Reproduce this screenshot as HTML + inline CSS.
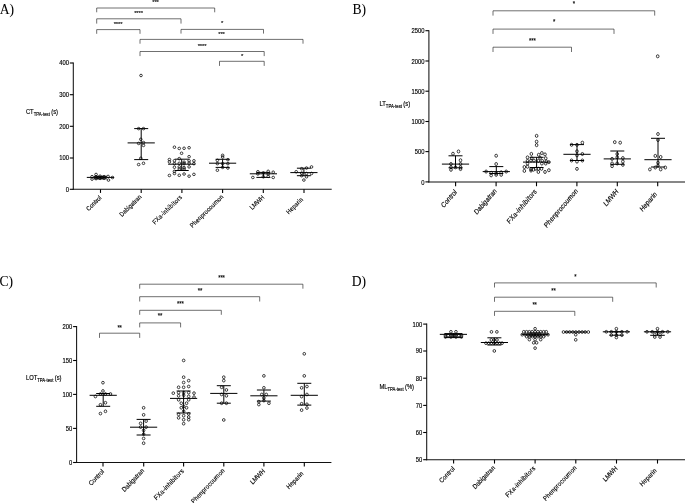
<!DOCTYPE html>
<html><head><meta charset="utf-8"><title>Figure</title>
<style>html,body{margin:0;padding:0;background:#fff;}svg{display:block}</style>
</head><body>
<svg width="685" height="503" viewBox="0 0 685 503">
<rect width="685" height="503" fill="#fff"/>
<text transform="translate(-0.30,13.65) scale(1,1.000)" font-size="13.6" text-anchor="start" font-family='"Liberation Serif", "Times New Roman", serif' fill="#000" stroke="#000" stroke-width="0.05" >A)</text>
<text transform="translate(352.40,13.50) scale(1,1.000)" font-size="13.6" text-anchor="start" font-family='"Liberation Serif", "Times New Roman", serif' fill="#000" stroke="#000" stroke-width="0.05" >B)</text>
<text transform="translate(-0.50,286.10) scale(1,1.000)" font-size="13.6" text-anchor="start" font-family='"Liberation Serif", "Times New Roman", serif' fill="#000" stroke="#000" stroke-width="0.05" >C)</text>
<text transform="translate(351.80,286.10) scale(1,1.000)" font-size="13.6" text-anchor="start" font-family='"Liberation Serif", "Times New Roman", serif' fill="#000" stroke="#000" stroke-width="0.05" >D)</text>
<line x1="73.30" y1="62.50" x2="73.30" y2="189.80" stroke="#111" stroke-width="1.05" />
<line x1="72.80" y1="189.30" x2="331.70" y2="189.30" stroke="#111" stroke-width="1.05" />
<line x1="69.80" y1="63.00" x2="73.30" y2="63.00" stroke="#000" stroke-width="1.1" />
<text transform="translate(68.90,65.30) scale(0.893,0.975)" font-size="6.55" text-anchor="end" font-family='"Liberation Sans", Arial, sans-serif' fill="#000" stroke="#000" stroke-width="0.15" >400</text>
<line x1="69.80" y1="94.70" x2="73.30" y2="94.70" stroke="#000" stroke-width="1.1" />
<text transform="translate(68.90,97.00) scale(0.893,0.975)" font-size="6.55" text-anchor="end" font-family='"Liberation Sans", Arial, sans-serif' fill="#000" stroke="#000" stroke-width="0.15" >300</text>
<line x1="69.80" y1="126.30" x2="73.30" y2="126.30" stroke="#000" stroke-width="1.1" />
<text transform="translate(68.90,128.60) scale(0.893,0.975)" font-size="6.55" text-anchor="end" font-family='"Liberation Sans", Arial, sans-serif' fill="#000" stroke="#000" stroke-width="0.15" >200</text>
<line x1="69.80" y1="158.00" x2="73.30" y2="158.00" stroke="#000" stroke-width="1.1" />
<text transform="translate(68.90,160.30) scale(0.893,0.975)" font-size="6.55" text-anchor="end" font-family='"Liberation Sans", Arial, sans-serif' fill="#000" stroke="#000" stroke-width="0.15" >100</text>
<line x1="69.80" y1="189.30" x2="73.30" y2="189.30" stroke="#000" stroke-width="1.1" />
<text transform="translate(68.90,191.60) scale(0.893,0.975)" font-size="6.55" text-anchor="end" font-family='"Liberation Sans", Arial, sans-serif' fill="#000" stroke="#000" stroke-width="0.15" >0</text>
<line x1="100.50" y1="189.30" x2="100.50" y2="192.91" stroke="#000" stroke-width="1.1" />
<line x1="141.20" y1="189.30" x2="141.20" y2="192.91" stroke="#000" stroke-width="1.1" />
<line x1="181.90" y1="189.30" x2="181.90" y2="192.91" stroke="#000" stroke-width="1.1" />
<line x1="222.60" y1="189.30" x2="222.60" y2="192.91" stroke="#000" stroke-width="1.1" />
<line x1="263.30" y1="189.30" x2="263.30" y2="192.91" stroke="#000" stroke-width="1.1" />
<line x1="304.00" y1="189.30" x2="304.00" y2="192.91" stroke="#000" stroke-width="1.1" />
<text transform="translate(100.39,196.69) scale(1,0.975) rotate(-45) scale(0.893,1)" x="0" y="2.3" font-size="6.55" text-anchor="end" textLength="21.05" lengthAdjust="spacing" font-family='"Liberation Sans", Arial, sans-serif' fill="#000" stroke="#000" stroke-width="0.15">Control</text>
<text transform="translate(140.51,195.75) scale(1,0.975) rotate(-45) scale(0.893,1)" x="0" y="2.3" font-size="6.55" text-anchor="end" textLength="31.95" lengthAdjust="spacing" font-family='"Liberation Sans", Arial, sans-serif' fill="#000" stroke="#000" stroke-width="0.15">Dabigatran</text>
<text transform="translate(180.89,196.16) scale(1,0.975) rotate(-45) scale(0.893,1)" x="0" y="2.3" font-size="6.55" text-anchor="end" textLength="43.72" lengthAdjust="spacing" font-family='"Liberation Sans", Arial, sans-serif' fill="#000" stroke="#000" stroke-width="0.15">FXa-inhibitors</text>
<text transform="translate(222.26,195.75) scale(1,0.975) rotate(-45) scale(0.893,1)" x="0" y="2.3" font-size="6.55" text-anchor="end" textLength="49.79" lengthAdjust="spacing" font-family='"Liberation Sans", Arial, sans-serif' fill="#000" stroke="#000" stroke-width="0.15">Phenprocoumon</text>
<text transform="translate(263.16,196.16) scale(1,0.975) rotate(-45) scale(0.893,1)" x="0" y="2.3" font-size="6.55" text-anchor="end" textLength="19.94" lengthAdjust="spacing" font-family='"Liberation Sans", Arial, sans-serif' fill="#000" stroke="#000" stroke-width="0.15">LMWH</text>
<text transform="translate(301.93,198.41) scale(1,0.975) rotate(-45) scale(0.893,1)" x="0" y="2.3" font-size="6.55" text-anchor="end" textLength="23.48" lengthAdjust="spacing" font-family='"Liberation Sans", Arial, sans-serif' fill="#000" stroke="#000" stroke-width="0.15">Heparin</text>
<text transform="translate(25.90,113.80) scale(0.893,0.975)" font-size="6.55" font-family='"Liberation Sans", Arial, sans-serif' fill="#000" stroke="#000" stroke-width="0.15">CT<tspan font-size="4.75" dy="1.75">TPA-test</tspan><tspan dx="1.5" dy="-1.55" font-size="6.55">(s)</tspan></text>
<path d="M96.70 12.30 V8.00 H214.70 V12.30" fill="none" stroke="#222" stroke-width="0.65"/>
<path d="M96.70 23.60 V18.80 H181.00 V23.60" fill="none" stroke="#222" stroke-width="0.65"/>
<path d="M96.70 33.80 V29.60 H140.00 V33.80" fill="none" stroke="#222" stroke-width="0.65"/>
<path d="M140.00 43.70 V39.40 H303.00 V43.70" fill="none" stroke="#222" stroke-width="0.65"/>
<path d="M140.00 56.10 V51.50 H264.20 V56.10" fill="none" stroke="#222" stroke-width="0.65"/>
<path d="M181.00 33.60 V29.40 H263.50 V33.60" fill="none" stroke="#222" stroke-width="0.65"/>
<path d="M219.50 65.90 V61.30 H264.20 V65.90" fill="none" stroke="#222" stroke-width="0.65"/>
<text transform="translate(155.50,3.86) scale(0.95,0.975)" font-size="6.3" text-anchor="middle" font-family='"Liberation Sans", Arial, sans-serif' fill="#000" stroke="#000" stroke-width="0.12" letter-spacing="-0.15">***</text>
<text transform="translate(138.50,14.86) scale(0.95,0.975)" font-size="6.3" text-anchor="middle" font-family='"Liberation Sans", Arial, sans-serif' fill="#000" stroke="#000" stroke-width="0.12" letter-spacing="-0.15">****</text>
<text transform="translate(118.00,25.96) scale(0.95,0.975)" font-size="6.3" text-anchor="middle" font-family='"Liberation Sans", Arial, sans-serif' fill="#000" stroke="#000" stroke-width="0.12" letter-spacing="-0.15">****</text>
<text transform="translate(222.00,25.26) scale(0.95,0.975)" font-size="6.3" text-anchor="middle" font-family='"Liberation Sans", Arial, sans-serif' fill="#000" stroke="#000" stroke-width="0.12" letter-spacing="-0.15">*</text>
<text transform="translate(221.50,35.76) scale(0.95,0.975)" font-size="6.3" text-anchor="middle" font-family='"Liberation Sans", Arial, sans-serif' fill="#000" stroke="#000" stroke-width="0.12" letter-spacing="-0.15">***</text>
<text transform="translate(202.00,48.36) scale(0.95,0.975)" font-size="6.3" text-anchor="middle" font-family='"Liberation Sans", Arial, sans-serif' fill="#000" stroke="#000" stroke-width="0.12" letter-spacing="-0.15">****</text>
<text transform="translate(242.00,58.16) scale(0.95,0.975)" font-size="6.3" text-anchor="middle" font-family='"Liberation Sans", Arial, sans-serif' fill="#000" stroke="#000" stroke-width="0.12" letter-spacing="-0.15">*</text>
<line x1="86.80" y1="177.40" x2="114.00" y2="177.40" stroke="#000" stroke-width="1.0" />
<line x1="100.40" y1="176.30" x2="100.40" y2="178.80" stroke="#000" stroke-width="1.0" />
<line x1="93.90" y1="176.30" x2="106.90" y2="176.30" stroke="#000" stroke-width="1.0" />
<line x1="93.90" y1="178.80" x2="106.90" y2="178.80" stroke="#000" stroke-width="1.0" />
<ellipse cx="92.04" cy="176.64" rx="1.32" ry="1.287" fill="none" stroke="#000" stroke-width="0.75"/>
<ellipse cx="92.04" cy="179.12" rx="1.32" ry="1.287" fill="none" stroke="#000" stroke-width="0.75"/>
<ellipse cx="96.06" cy="174.45" rx="1.32" ry="1.287" fill="none" stroke="#000" stroke-width="0.75"/>
<ellipse cx="96.06" cy="176.93" rx="1.32" ry="1.287" fill="none" stroke="#000" stroke-width="0.75"/>
<ellipse cx="96.06" cy="178.61" rx="1.32" ry="1.287" fill="none" stroke="#000" stroke-width="0.75"/>
<ellipse cx="98.10" cy="177.52" rx="1.32" ry="1.287" fill="none" stroke="#000" stroke-width="0.75"/>
<ellipse cx="100.07" cy="176.20" rx="1.32" ry="1.287" fill="none" stroke="#000" stroke-width="0.75"/>
<ellipse cx="100.07" cy="178.39" rx="1.32" ry="1.287" fill="none" stroke="#000" stroke-width="0.75"/>
<ellipse cx="102.12" cy="177.52" rx="1.32" ry="1.287" fill="none" stroke="#000" stroke-width="0.75"/>
<ellipse cx="104.09" cy="176.64" rx="1.32" ry="1.287" fill="none" stroke="#000" stroke-width="0.75"/>
<ellipse cx="104.09" cy="178.25" rx="1.32" ry="1.287" fill="none" stroke="#000" stroke-width="0.75"/>
<ellipse cx="108.10" cy="176.42" rx="1.32" ry="1.287" fill="none" stroke="#000" stroke-width="0.75"/>
<ellipse cx="108.47" cy="180.07" rx="1.32" ry="1.287" fill="none" stroke="#000" stroke-width="0.75"/>
<ellipse cx="112.48" cy="177.52" rx="1.32" ry="1.287" fill="none" stroke="#000" stroke-width="0.75"/>
<line x1="127.60" y1="142.90" x2="154.80" y2="142.90" stroke="#000" stroke-width="1.0" />
<line x1="141.20" y1="128.60" x2="141.20" y2="159.60" stroke="#000" stroke-width="1.0" />
<line x1="134.20" y1="128.60" x2="148.20" y2="128.60" stroke="#000" stroke-width="1.0" />
<line x1="134.20" y1="159.60" x2="148.20" y2="159.60" stroke="#000" stroke-width="1.0" />
<ellipse cx="138.66" cy="128.60" rx="1.32" ry="1.287" fill="none" stroke="#000" stroke-width="0.75"/>
<ellipse cx="143.49" cy="128.60" rx="1.32" ry="1.287" fill="none" stroke="#000" stroke-width="0.75"/>
<ellipse cx="140.80" cy="139.33" rx="1.32" ry="1.287" fill="none" stroke="#000" stroke-width="0.75"/>
<ellipse cx="138.66" cy="143.44" rx="1.32" ry="1.287" fill="none" stroke="#000" stroke-width="0.75"/>
<ellipse cx="143.49" cy="142.55" rx="1.32" ry="1.287" fill="none" stroke="#000" stroke-width="0.75"/>
<ellipse cx="143.49" cy="145.41" rx="1.32" ry="1.287" fill="none" stroke="#000" stroke-width="0.75"/>
<ellipse cx="140.80" cy="158.29" rx="1.32" ry="1.287" fill="none" stroke="#000" stroke-width="0.75"/>
<ellipse cx="138.66" cy="164.55" rx="1.32" ry="1.287" fill="none" stroke="#000" stroke-width="0.75"/>
<ellipse cx="143.49" cy="163.29" rx="1.32" ry="1.287" fill="none" stroke="#000" stroke-width="0.75"/>
<ellipse cx="141.00" cy="75.50" rx="1.32" ry="1.287" fill="none" stroke="#000" stroke-width="0.75"/>
<line x1="168.10" y1="164.20" x2="195.30" y2="164.20" stroke="#000" stroke-width="1.0" />
<line x1="181.70" y1="159.20" x2="181.70" y2="170.50" stroke="#000" stroke-width="1.0" />
<line x1="174.70" y1="159.20" x2="188.70" y2="159.20" stroke="#000" stroke-width="1.0" />
<line x1="174.70" y1="170.50" x2="188.70" y2="170.50" stroke="#000" stroke-width="1.0" />
<ellipse cx="174.43" cy="147.20" rx="1.32" ry="1.287" fill="none" stroke="#000" stroke-width="0.75"/>
<ellipse cx="179.25" cy="148.45" rx="1.32" ry="1.287" fill="none" stroke="#000" stroke-width="0.75"/>
<ellipse cx="184.08" cy="148.27" rx="1.32" ry="1.287" fill="none" stroke="#000" stroke-width="0.75"/>
<ellipse cx="189.09" cy="147.73" rx="1.32" ry="1.287" fill="none" stroke="#000" stroke-width="0.75"/>
<ellipse cx="181.58" cy="153.28" rx="1.32" ry="1.287" fill="none" stroke="#000" stroke-width="0.75"/>
<ellipse cx="189.09" cy="156.68" rx="1.32" ry="1.287" fill="none" stroke="#000" stroke-width="0.75"/>
<ellipse cx="169.42" cy="159.54" rx="1.32" ry="1.287" fill="none" stroke="#000" stroke-width="0.75"/>
<ellipse cx="179.25" cy="158.64" rx="1.32" ry="1.287" fill="none" stroke="#000" stroke-width="0.75"/>
<ellipse cx="169.42" cy="161.86" rx="1.32" ry="1.287" fill="none" stroke="#000" stroke-width="0.75"/>
<ellipse cx="174.43" cy="160.79" rx="1.32" ry="1.287" fill="none" stroke="#000" stroke-width="0.75"/>
<ellipse cx="184.08" cy="162.22" rx="1.32" ry="1.287" fill="none" stroke="#000" stroke-width="0.75"/>
<ellipse cx="189.09" cy="160.79" rx="1.32" ry="1.287" fill="none" stroke="#000" stroke-width="0.75"/>
<ellipse cx="193.92" cy="160.79" rx="1.32" ry="1.287" fill="none" stroke="#000" stroke-width="0.75"/>
<ellipse cx="174.43" cy="163.65" rx="1.32" ry="1.287" fill="none" stroke="#000" stroke-width="0.75"/>
<ellipse cx="179.25" cy="163.29" rx="1.32" ry="1.287" fill="none" stroke="#000" stroke-width="0.75"/>
<ellipse cx="184.08" cy="163.65" rx="1.32" ry="1.287" fill="none" stroke="#000" stroke-width="0.75"/>
<ellipse cx="189.09" cy="163.11" rx="1.32" ry="1.287" fill="none" stroke="#000" stroke-width="0.75"/>
<ellipse cx="193.92" cy="163.65" rx="1.32" ry="1.287" fill="none" stroke="#000" stroke-width="0.75"/>
<ellipse cx="174.43" cy="167.23" rx="1.32" ry="1.287" fill="none" stroke="#000" stroke-width="0.75"/>
<ellipse cx="179.25" cy="166.87" rx="1.32" ry="1.287" fill="none" stroke="#000" stroke-width="0.75"/>
<ellipse cx="184.08" cy="167.59" rx="1.32" ry="1.287" fill="none" stroke="#000" stroke-width="0.75"/>
<ellipse cx="189.09" cy="166.87" rx="1.32" ry="1.287" fill="none" stroke="#000" stroke-width="0.75"/>
<ellipse cx="179.25" cy="169.02" rx="1.32" ry="1.287" fill="none" stroke="#000" stroke-width="0.75"/>
<ellipse cx="184.08" cy="169.02" rx="1.32" ry="1.287" fill="none" stroke="#000" stroke-width="0.75"/>
<ellipse cx="174.43" cy="171.34" rx="1.32" ry="1.287" fill="none" stroke="#000" stroke-width="0.75"/>
<ellipse cx="174.43" cy="173.49" rx="1.32" ry="1.287" fill="none" stroke="#000" stroke-width="0.75"/>
<ellipse cx="169.42" cy="175.45" rx="1.32" ry="1.287" fill="none" stroke="#000" stroke-width="0.75"/>
<ellipse cx="179.25" cy="175.28" rx="1.32" ry="1.287" fill="none" stroke="#000" stroke-width="0.75"/>
<ellipse cx="184.08" cy="174.02" rx="1.32" ry="1.287" fill="none" stroke="#000" stroke-width="0.75"/>
<ellipse cx="189.09" cy="176.17" rx="1.32" ry="1.287" fill="none" stroke="#000" stroke-width="0.75"/>
<ellipse cx="193.92" cy="174.38" rx="1.32" ry="1.287" fill="none" stroke="#000" stroke-width="0.75"/>
<line x1="209.00" y1="163.20" x2="236.20" y2="163.20" stroke="#000" stroke-width="1.0" />
<line x1="222.60" y1="159.30" x2="222.60" y2="167.40" stroke="#000" stroke-width="1.0" />
<line x1="215.60" y1="159.30" x2="229.60" y2="159.30" stroke="#000" stroke-width="1.0" />
<line x1="215.60" y1="167.40" x2="229.60" y2="167.40" stroke="#000" stroke-width="1.0" />
<ellipse cx="222.63" cy="155.33" rx="1.32" ry="1.287" fill="none" stroke="#000" stroke-width="0.75"/>
<ellipse cx="222.63" cy="157.08" rx="1.32" ry="1.287" fill="none" stroke="#000" stroke-width="0.75"/>
<ellipse cx="217.37" cy="160.36" rx="1.32" ry="1.287" fill="none" stroke="#000" stroke-width="0.75"/>
<ellipse cx="227.88" cy="159.71" rx="1.32" ry="1.287" fill="none" stroke="#000" stroke-width="0.75"/>
<ellipse cx="217.37" cy="163.65" rx="1.32" ry="1.287" fill="none" stroke="#000" stroke-width="0.75"/>
<ellipse cx="222.63" cy="163.65" rx="1.32" ry="1.287" fill="none" stroke="#000" stroke-width="0.75"/>
<ellipse cx="227.88" cy="163.65" rx="1.32" ry="1.287" fill="none" stroke="#000" stroke-width="0.75"/>
<ellipse cx="222.63" cy="167.37" rx="1.32" ry="1.287" fill="none" stroke="#000" stroke-width="0.75"/>
<ellipse cx="227.88" cy="168.03" rx="1.32" ry="1.287" fill="none" stroke="#000" stroke-width="0.75"/>
<ellipse cx="217.37" cy="170.22" rx="1.32" ry="1.287" fill="none" stroke="#000" stroke-width="0.75"/>
<line x1="249.80" y1="173.80" x2="277.00" y2="173.80" stroke="#000" stroke-width="1.0" />
<line x1="263.40" y1="172.40" x2="263.40" y2="177.40" stroke="#000" stroke-width="1.0" />
<line x1="256.40" y1="172.40" x2="270.40" y2="172.40" stroke="#000" stroke-width="1.0" />
<line x1="256.40" y1="177.40" x2="270.40" y2="177.40" stroke="#000" stroke-width="1.0" />
<ellipse cx="257.88" cy="171.75" rx="1.32" ry="1.287" fill="none" stroke="#000" stroke-width="0.75"/>
<ellipse cx="263.36" cy="172.85" rx="1.32" ry="1.287" fill="none" stroke="#000" stroke-width="0.75"/>
<ellipse cx="268.18" cy="171.31" rx="1.32" ry="1.287" fill="none" stroke="#000" stroke-width="0.75"/>
<ellipse cx="273.21" cy="172.19" rx="1.32" ry="1.287" fill="none" stroke="#000" stroke-width="0.75"/>
<ellipse cx="257.88" cy="173.94" rx="1.32" ry="1.287" fill="none" stroke="#000" stroke-width="0.75"/>
<ellipse cx="268.18" cy="173.94" rx="1.32" ry="1.287" fill="none" stroke="#000" stroke-width="0.75"/>
<ellipse cx="252.85" cy="177.45" rx="1.32" ry="1.287" fill="none" stroke="#000" stroke-width="0.75"/>
<ellipse cx="263.36" cy="176.79" rx="1.32" ry="1.287" fill="none" stroke="#000" stroke-width="0.75"/>
<ellipse cx="268.18" cy="176.35" rx="1.32" ry="1.287" fill="none" stroke="#000" stroke-width="0.75"/>
<ellipse cx="273.21" cy="177.45" rx="1.32" ry="1.287" fill="none" stroke="#000" stroke-width="0.75"/>
<line x1="290.30" y1="172.60" x2="317.50" y2="172.60" stroke="#000" stroke-width="1.0" />
<line x1="303.90" y1="168.20" x2="303.90" y2="175.70" stroke="#000" stroke-width="1.0" />
<line x1="296.90" y1="168.20" x2="310.90" y2="168.20" stroke="#000" stroke-width="1.0" />
<line x1="296.90" y1="175.70" x2="310.90" y2="175.70" stroke="#000" stroke-width="1.0" />
<ellipse cx="311.53" cy="166.93" rx="1.32" ry="1.287" fill="none" stroke="#000" stroke-width="0.75"/>
<ellipse cx="306.50" cy="168.03" rx="1.32" ry="1.287" fill="none" stroke="#000" stroke-width="0.75"/>
<ellipse cx="301.68" cy="168.69" rx="1.32" ry="1.287" fill="none" stroke="#000" stroke-width="0.75"/>
<ellipse cx="296.20" cy="171.75" rx="1.32" ry="1.287" fill="none" stroke="#000" stroke-width="0.75"/>
<ellipse cx="301.68" cy="173.07" rx="1.32" ry="1.287" fill="none" stroke="#000" stroke-width="0.75"/>
<ellipse cx="306.50" cy="173.50" rx="1.32" ry="1.287" fill="none" stroke="#000" stroke-width="0.75"/>
<ellipse cx="311.53" cy="173.50" rx="1.32" ry="1.287" fill="none" stroke="#000" stroke-width="0.75"/>
<ellipse cx="301.68" cy="175.69" rx="1.32" ry="1.287" fill="none" stroke="#000" stroke-width="0.75"/>
<ellipse cx="306.50" cy="176.79" rx="1.32" ry="1.287" fill="none" stroke="#000" stroke-width="0.75"/>
<ellipse cx="303.87" cy="180.07" rx="1.32" ry="1.287" fill="none" stroke="#000" stroke-width="0.75"/>
<line x1="428.90" y1="30.20" x2="428.90" y2="182.40" stroke="#111" stroke-width="1.05" />
<line x1="428.40" y1="181.90" x2="685.00" y2="181.90" stroke="#111" stroke-width="1.05" />
<line x1="425.40" y1="30.70" x2="428.90" y2="30.70" stroke="#000" stroke-width="1.1" />
<text transform="translate(424.50,33.45) scale(0.893,1.167)" font-size="6.55" text-anchor="end" font-family='"Liberation Sans", Arial, sans-serif' fill="#000" stroke="#000" stroke-width="0.15" >2500</text>
<line x1="425.40" y1="61.00" x2="428.90" y2="61.00" stroke="#000" stroke-width="1.1" />
<text transform="translate(424.50,63.75) scale(0.893,1.167)" font-size="6.55" text-anchor="end" font-family='"Liberation Sans", Arial, sans-serif' fill="#000" stroke="#000" stroke-width="0.15" >2000</text>
<line x1="425.40" y1="91.20" x2="428.90" y2="91.20" stroke="#000" stroke-width="1.1" />
<text transform="translate(424.50,93.95) scale(0.893,1.167)" font-size="6.55" text-anchor="end" font-family='"Liberation Sans", Arial, sans-serif' fill="#000" stroke="#000" stroke-width="0.15" >1500</text>
<line x1="425.40" y1="121.50" x2="428.90" y2="121.50" stroke="#000" stroke-width="1.1" />
<text transform="translate(424.50,124.25) scale(0.893,1.167)" font-size="6.55" text-anchor="end" font-family='"Liberation Sans", Arial, sans-serif' fill="#000" stroke="#000" stroke-width="0.15" >1000</text>
<line x1="425.40" y1="151.60" x2="428.90" y2="151.60" stroke="#000" stroke-width="1.1" />
<text transform="translate(424.50,154.35) scale(0.893,1.167)" font-size="6.55" text-anchor="end" font-family='"Liberation Sans", Arial, sans-serif' fill="#000" stroke="#000" stroke-width="0.15" >500</text>
<line x1="425.40" y1="181.90" x2="428.90" y2="181.90" stroke="#000" stroke-width="1.1" />
<text transform="translate(424.50,184.65) scale(0.893,1.167)" font-size="6.55" text-anchor="end" font-family='"Liberation Sans", Arial, sans-serif' fill="#000" stroke="#000" stroke-width="0.15" >0</text>
<line x1="455.60" y1="181.90" x2="455.60" y2="186.22" stroke="#000" stroke-width="1.1" />
<line x1="496.10" y1="181.90" x2="496.10" y2="186.22" stroke="#000" stroke-width="1.1" />
<line x1="536.50" y1="181.90" x2="536.50" y2="186.22" stroke="#000" stroke-width="1.1" />
<line x1="576.90" y1="181.90" x2="576.90" y2="186.22" stroke="#000" stroke-width="1.1" />
<line x1="617.30" y1="181.90" x2="617.30" y2="186.22" stroke="#000" stroke-width="1.1" />
<line x1="657.70" y1="181.90" x2="657.70" y2="186.22" stroke="#000" stroke-width="1.1" />
<text transform="translate(455.49,190.75) scale(1,1.167) rotate(-45) scale(0.893,1)" x="0" y="2.3" font-size="6.55" text-anchor="end" textLength="21.05" lengthAdjust="spacing" font-family='"Liberation Sans", Arial, sans-serif' fill="#000" stroke="#000" stroke-width="0.15">Control</text>
<text transform="translate(495.41,189.63) scale(1,1.167) rotate(-45) scale(0.893,1)" x="0" y="2.3" font-size="6.55" text-anchor="end" textLength="31.95" lengthAdjust="spacing" font-family='"Liberation Sans", Arial, sans-serif' fill="#000" stroke="#000" stroke-width="0.15">Dabigatran</text>
<text transform="translate(535.49,190.11) scale(1,1.167) rotate(-45) scale(0.893,1)" x="0" y="2.3" font-size="6.55" text-anchor="end" textLength="43.72" lengthAdjust="spacing" font-family='"Liberation Sans", Arial, sans-serif' fill="#000" stroke="#000" stroke-width="0.15">FXa-inhibitors</text>
<text transform="translate(576.56,189.63) scale(1,1.167) rotate(-45) scale(0.893,1)" x="0" y="2.3" font-size="6.55" text-anchor="end" textLength="49.79" lengthAdjust="spacing" font-family='"Liberation Sans", Arial, sans-serif' fill="#000" stroke="#000" stroke-width="0.15">Phenprocoumon</text>
<text transform="translate(617.16,190.11) scale(1,1.167) rotate(-45) scale(0.893,1)" x="0" y="2.3" font-size="6.55" text-anchor="end" textLength="19.94" lengthAdjust="spacing" font-family='"Liberation Sans", Arial, sans-serif' fill="#000" stroke="#000" stroke-width="0.15">LMWH</text>
<text transform="translate(655.63,192.80) scale(1,1.167) rotate(-45) scale(0.893,1)" x="0" y="2.3" font-size="6.55" text-anchor="end" textLength="23.48" lengthAdjust="spacing" font-family='"Liberation Sans", Arial, sans-serif' fill="#000" stroke="#000" stroke-width="0.15">Heparin</text>
<text transform="translate(379.40,105.80) scale(0.893,1.167)" font-size="6.55" font-family='"Liberation Sans", Arial, sans-serif' fill="#000" stroke="#000" stroke-width="0.15">LT<tspan font-size="4.75" dy="1.75">TPA-test</tspan><tspan dx="1.5" dy="-1.55" font-size="6.55">(s)</tspan></text>
<path d="M493.00 15.60 V10.80 H654.70 V15.60" fill="none" stroke="#222" stroke-width="0.65"/>
<path d="M493.00 33.90 V29.10 H614.00 V33.90" fill="none" stroke="#222" stroke-width="0.65"/>
<path d="M493.00 52.00 V47.20 H571.50 V52.00" fill="none" stroke="#222" stroke-width="0.65"/>
<text transform="translate(573.80,6.33) scale(0.95,1.167)" font-size="6.3" text-anchor="middle" font-family='"Liberation Sans", Arial, sans-serif' fill="#000" stroke="#000" stroke-width="0.12" letter-spacing="-0.15">*</text>
<text transform="translate(554.00,24.33) scale(0.95,1.167)" font-size="6.3" text-anchor="middle" font-family='"Liberation Sans", Arial, sans-serif' fill="#000" stroke="#000" stroke-width="0.12" letter-spacing="-0.15">*</text>
<text transform="translate(532.30,43.33) scale(0.95,1.167)" font-size="6.3" text-anchor="middle" font-family='"Liberation Sans", Arial, sans-serif' fill="#000" stroke="#000" stroke-width="0.12" letter-spacing="-0.15">***</text>
<line x1="441.90" y1="164.10" x2="469.10" y2="164.10" stroke="#000" stroke-width="1.0" />
<line x1="455.50" y1="155.80" x2="455.50" y2="167.80" stroke="#000" stroke-width="1.0" />
<line x1="448.50" y1="155.80" x2="462.50" y2="155.80" stroke="#000" stroke-width="1.0" />
<line x1="448.50" y1="167.80" x2="462.50" y2="167.80" stroke="#000" stroke-width="1.0" />
<ellipse cx="458.50" cy="151.47" rx="1.32" ry="1.540" fill="none" stroke="#000" stroke-width="0.75"/>
<ellipse cx="452.98" cy="153.73" rx="1.32" ry="1.540" fill="none" stroke="#000" stroke-width="0.75"/>
<ellipse cx="460.51" cy="160.26" rx="1.32" ry="1.540" fill="none" stroke="#000" stroke-width="0.75"/>
<ellipse cx="450.97" cy="164.03" rx="1.32" ry="1.540" fill="none" stroke="#000" stroke-width="0.75"/>
<ellipse cx="460.51" cy="164.03" rx="1.32" ry="1.540" fill="none" stroke="#000" stroke-width="0.75"/>
<ellipse cx="450.97" cy="167.29" rx="1.32" ry="1.540" fill="none" stroke="#000" stroke-width="0.75"/>
<ellipse cx="455.49" cy="167.29" rx="1.32" ry="1.540" fill="none" stroke="#000" stroke-width="0.75"/>
<ellipse cx="460.51" cy="167.29" rx="1.32" ry="1.540" fill="none" stroke="#000" stroke-width="0.75"/>
<ellipse cx="450.97" cy="169.80" rx="1.32" ry="1.540" fill="none" stroke="#000" stroke-width="0.75"/>
<ellipse cx="460.51" cy="169.05" rx="1.32" ry="1.540" fill="none" stroke="#000" stroke-width="0.75"/>
<line x1="482.70" y1="171.60" x2="509.90" y2="171.60" stroke="#000" stroke-width="1.0" />
<line x1="496.30" y1="166.60" x2="496.30" y2="173.50" stroke="#000" stroke-width="1.0" />
<line x1="489.30" y1="166.60" x2="503.30" y2="166.60" stroke="#000" stroke-width="1.0" />
<line x1="489.30" y1="173.50" x2="503.30" y2="173.50" stroke="#000" stroke-width="1.0" />
<ellipse cx="496.17" cy="155.74" rx="1.32" ry="1.540" fill="none" stroke="#000" stroke-width="0.75"/>
<ellipse cx="496.17" cy="164.03" rx="1.32" ry="1.540" fill="none" stroke="#000" stroke-width="0.75"/>
<ellipse cx="486.12" cy="171.56" rx="1.32" ry="1.540" fill="none" stroke="#000" stroke-width="0.75"/>
<ellipse cx="491.15" cy="172.82" rx="1.32" ry="1.540" fill="none" stroke="#000" stroke-width="0.75"/>
<ellipse cx="496.17" cy="173.32" rx="1.32" ry="1.540" fill="none" stroke="#000" stroke-width="0.75"/>
<ellipse cx="501.19" cy="172.32" rx="1.32" ry="1.540" fill="none" stroke="#000" stroke-width="0.75"/>
<ellipse cx="506.21" cy="171.56" rx="1.32" ry="1.540" fill="none" stroke="#000" stroke-width="0.75"/>
<ellipse cx="491.15" cy="175.33" rx="1.32" ry="1.540" fill="none" stroke="#000" stroke-width="0.75"/>
<ellipse cx="496.17" cy="174.83" rx="1.32" ry="1.540" fill="none" stroke="#000" stroke-width="0.75"/>
<ellipse cx="501.19" cy="174.83" rx="1.32" ry="1.540" fill="none" stroke="#000" stroke-width="0.75"/>
<line x1="523.00" y1="162.10" x2="550.20" y2="162.10" stroke="#000" stroke-width="1.0" />
<line x1="536.60" y1="157.30" x2="536.60" y2="167.50" stroke="#000" stroke-width="1.0" />
<line x1="529.60" y1="157.30" x2="543.60" y2="157.30" stroke="#000" stroke-width="1.0" />
<line x1="529.60" y1="167.50" x2="543.60" y2="167.50" stroke="#000" stroke-width="1.0" />
<ellipse cx="536.61" cy="135.86" rx="1.32" ry="1.540" fill="none" stroke="#000" stroke-width="0.75"/>
<ellipse cx="536.61" cy="141.64" rx="1.32" ry="1.540" fill="none" stroke="#000" stroke-width="0.75"/>
<ellipse cx="536.61" cy="145.15" rx="1.32" ry="1.540" fill="none" stroke="#000" stroke-width="0.75"/>
<ellipse cx="531.35" cy="153.91" rx="1.32" ry="1.540" fill="none" stroke="#000" stroke-width="0.75"/>
<ellipse cx="538.71" cy="154.78" rx="1.32" ry="1.540" fill="none" stroke="#000" stroke-width="0.75"/>
<ellipse cx="541.86" cy="153.03" rx="1.32" ry="1.540" fill="none" stroke="#000" stroke-width="0.75"/>
<ellipse cx="545.01" cy="154.43" rx="1.32" ry="1.540" fill="none" stroke="#000" stroke-width="0.75"/>
<ellipse cx="527.50" cy="157.41" rx="1.32" ry="1.540" fill="none" stroke="#000" stroke-width="0.75"/>
<ellipse cx="531.70" cy="158.28" rx="1.32" ry="1.540" fill="none" stroke="#000" stroke-width="0.75"/>
<ellipse cx="540.11" cy="157.93" rx="1.32" ry="1.540" fill="none" stroke="#000" stroke-width="0.75"/>
<ellipse cx="545.72" cy="158.28" rx="1.32" ry="1.540" fill="none" stroke="#000" stroke-width="0.75"/>
<ellipse cx="527.50" cy="160.91" rx="1.32" ry="1.540" fill="none" stroke="#000" stroke-width="0.75"/>
<ellipse cx="531.00" cy="160.56" rx="1.32" ry="1.540" fill="none" stroke="#000" stroke-width="0.75"/>
<ellipse cx="533.98" cy="160.56" rx="1.32" ry="1.540" fill="none" stroke="#000" stroke-width="0.75"/>
<ellipse cx="538.36" cy="160.91" rx="1.32" ry="1.540" fill="none" stroke="#000" stroke-width="0.75"/>
<ellipse cx="542.21" cy="160.91" rx="1.32" ry="1.540" fill="none" stroke="#000" stroke-width="0.75"/>
<ellipse cx="546.24" cy="161.44" rx="1.32" ry="1.540" fill="none" stroke="#000" stroke-width="0.75"/>
<ellipse cx="548.87" cy="162.14" rx="1.32" ry="1.540" fill="none" stroke="#000" stroke-width="0.75"/>
<ellipse cx="527.50" cy="163.54" rx="1.32" ry="1.540" fill="none" stroke="#000" stroke-width="0.75"/>
<ellipse cx="541.86" cy="163.54" rx="1.32" ry="1.540" fill="none" stroke="#000" stroke-width="0.75"/>
<ellipse cx="545.72" cy="163.54" rx="1.32" ry="1.540" fill="none" stroke="#000" stroke-width="0.75"/>
<ellipse cx="524.34" cy="167.04" rx="1.32" ry="1.540" fill="none" stroke="#000" stroke-width="0.75"/>
<ellipse cx="527.50" cy="166.69" rx="1.32" ry="1.540" fill="none" stroke="#000" stroke-width="0.75"/>
<ellipse cx="531.00" cy="169.15" rx="1.32" ry="1.540" fill="none" stroke="#000" stroke-width="0.75"/>
<ellipse cx="533.45" cy="169.67" rx="1.32" ry="1.540" fill="none" stroke="#000" stroke-width="0.75"/>
<ellipse cx="535.91" cy="168.80" rx="1.32" ry="1.540" fill="none" stroke="#000" stroke-width="0.75"/>
<ellipse cx="538.36" cy="168.80" rx="1.32" ry="1.540" fill="none" stroke="#000" stroke-width="0.75"/>
<ellipse cx="541.51" cy="168.80" rx="1.32" ry="1.540" fill="none" stroke="#000" stroke-width="0.75"/>
<ellipse cx="524.34" cy="170.90" rx="1.32" ry="1.540" fill="none" stroke="#000" stroke-width="0.75"/>
<ellipse cx="531.00" cy="170.55" rx="1.32" ry="1.540" fill="none" stroke="#000" stroke-width="0.75"/>
<ellipse cx="538.36" cy="171.95" rx="1.32" ry="1.540" fill="none" stroke="#000" stroke-width="0.75"/>
<ellipse cx="545.01" cy="171.95" rx="1.32" ry="1.540" fill="none" stroke="#000" stroke-width="0.75"/>
<ellipse cx="548.87" cy="170.20" rx="1.32" ry="1.540" fill="none" stroke="#000" stroke-width="0.75"/>
<line x1="563.40" y1="154.30" x2="590.60" y2="154.30" stroke="#000" stroke-width="1.0" />
<line x1="577.00" y1="144.60" x2="577.00" y2="160.50" stroke="#000" stroke-width="1.0" />
<line x1="570.00" y1="144.60" x2="584.00" y2="144.60" stroke="#000" stroke-width="1.0" />
<line x1="570.00" y1="160.50" x2="584.00" y2="160.50" stroke="#000" stroke-width="1.0" />
<ellipse cx="582.37" cy="142.67" rx="1.32" ry="1.540" fill="none" stroke="#000" stroke-width="0.75"/>
<ellipse cx="571.57" cy="144.83" rx="1.32" ry="1.540" fill="none" stroke="#000" stroke-width="0.75"/>
<ellipse cx="576.97" cy="144.83" rx="1.32" ry="1.540" fill="none" stroke="#000" stroke-width="0.75"/>
<ellipse cx="576.97" cy="151.31" rx="1.32" ry="1.540" fill="none" stroke="#000" stroke-width="0.75"/>
<ellipse cx="576.97" cy="155.36" rx="1.32" ry="1.540" fill="none" stroke="#000" stroke-width="0.75"/>
<ellipse cx="582.37" cy="154.01" rx="1.32" ry="1.540" fill="none" stroke="#000" stroke-width="0.75"/>
<ellipse cx="571.57" cy="160.50" rx="1.32" ry="1.540" fill="none" stroke="#000" stroke-width="0.75"/>
<ellipse cx="576.97" cy="161.58" rx="1.32" ry="1.540" fill="none" stroke="#000" stroke-width="0.75"/>
<ellipse cx="582.37" cy="160.50" rx="1.32" ry="1.540" fill="none" stroke="#000" stroke-width="0.75"/>
<ellipse cx="576.97" cy="168.87" rx="1.32" ry="1.540" fill="none" stroke="#000" stroke-width="0.75"/>
<line x1="603.70" y1="158.90" x2="630.90" y2="158.90" stroke="#000" stroke-width="1.0" />
<line x1="617.30" y1="151.00" x2="617.30" y2="164.30" stroke="#000" stroke-width="1.0" />
<line x1="610.30" y1="151.00" x2="624.30" y2="151.00" stroke="#000" stroke-width="1.0" />
<line x1="610.30" y1="164.30" x2="624.30" y2="164.30" stroke="#000" stroke-width="1.0" />
<ellipse cx="614.78" cy="142.13" rx="1.32" ry="1.540" fill="none" stroke="#000" stroke-width="0.75"/>
<ellipse cx="620.18" cy="142.67" rx="1.32" ry="1.540" fill="none" stroke="#000" stroke-width="0.75"/>
<ellipse cx="617.21" cy="154.01" rx="1.32" ry="1.540" fill="none" stroke="#000" stroke-width="0.75"/>
<ellipse cx="617.21" cy="157.26" rx="1.32" ry="1.540" fill="none" stroke="#000" stroke-width="0.75"/>
<ellipse cx="612.08" cy="158.88" rx="1.32" ry="1.540" fill="none" stroke="#000" stroke-width="0.75"/>
<ellipse cx="622.88" cy="158.07" rx="1.32" ry="1.540" fill="none" stroke="#000" stroke-width="0.75"/>
<ellipse cx="622.88" cy="161.58" rx="1.32" ry="1.540" fill="none" stroke="#000" stroke-width="0.75"/>
<ellipse cx="612.08" cy="163.47" rx="1.32" ry="1.540" fill="none" stroke="#000" stroke-width="0.75"/>
<ellipse cx="617.21" cy="163.47" rx="1.32" ry="1.540" fill="none" stroke="#000" stroke-width="0.75"/>
<ellipse cx="622.88" cy="164.82" rx="1.32" ry="1.540" fill="none" stroke="#000" stroke-width="0.75"/>
<ellipse cx="612.08" cy="166.17" rx="1.32" ry="1.540" fill="none" stroke="#000" stroke-width="0.75"/>
<ellipse cx="657.70" cy="56.30" rx="1.32" ry="1.540" fill="none" stroke="#000" stroke-width="0.75"/>
<line x1="644.40" y1="159.70" x2="671.60" y2="159.70" stroke="#000" stroke-width="1.0" />
<line x1="658.00" y1="138.30" x2="658.00" y2="167.00" stroke="#000" stroke-width="1.0" />
<line x1="651.00" y1="138.30" x2="665.00" y2="138.30" stroke="#000" stroke-width="1.0" />
<line x1="651.00" y1="167.00" x2="665.00" y2="167.00" stroke="#000" stroke-width="1.0" />
<ellipse cx="657.99" cy="134.03" rx="1.32" ry="1.540" fill="none" stroke="#000" stroke-width="0.75"/>
<ellipse cx="657.99" cy="139.97" rx="1.32" ry="1.540" fill="none" stroke="#000" stroke-width="0.75"/>
<ellipse cx="655.29" cy="155.91" rx="1.32" ry="1.540" fill="none" stroke="#000" stroke-width="0.75"/>
<ellipse cx="660.69" cy="156.99" rx="1.32" ry="1.540" fill="none" stroke="#000" stroke-width="0.75"/>
<ellipse cx="657.99" cy="162.66" rx="1.32" ry="1.540" fill="none" stroke="#000" stroke-width="0.75"/>
<ellipse cx="657.99" cy="165.63" rx="1.32" ry="1.540" fill="none" stroke="#000" stroke-width="0.75"/>
<ellipse cx="649.89" cy="169.41" rx="1.32" ry="1.540" fill="none" stroke="#000" stroke-width="0.75"/>
<ellipse cx="655.29" cy="167.52" rx="1.32" ry="1.540" fill="none" stroke="#000" stroke-width="0.75"/>
<ellipse cx="660.69" cy="169.41" rx="1.32" ry="1.540" fill="none" stroke="#000" stroke-width="0.75"/>
<ellipse cx="665.28" cy="167.52" rx="1.32" ry="1.540" fill="none" stroke="#000" stroke-width="0.75"/>
<line x1="76.60" y1="326.10" x2="76.60" y2="463.00" stroke="#111" stroke-width="1.05" />
<line x1="76.10" y1="462.50" x2="331.40" y2="462.50" stroke="#111" stroke-width="1.05" />
<line x1="73.10" y1="326.60" x2="76.60" y2="326.60" stroke="#000" stroke-width="1.1" />
<text transform="translate(72.20,329.07) scale(0.893,1.048)" font-size="6.55" text-anchor="end" font-family='"Liberation Sans", Arial, sans-serif' fill="#000" stroke="#000" stroke-width="0.15" >200</text>
<line x1="73.10" y1="360.50" x2="76.60" y2="360.50" stroke="#000" stroke-width="1.1" />
<text transform="translate(72.20,362.97) scale(0.893,1.048)" font-size="6.55" text-anchor="end" font-family='"Liberation Sans", Arial, sans-serif' fill="#000" stroke="#000" stroke-width="0.15" >150</text>
<line x1="73.10" y1="394.40" x2="76.60" y2="394.40" stroke="#000" stroke-width="1.1" />
<text transform="translate(72.20,396.87) scale(0.893,1.048)" font-size="6.55" text-anchor="end" font-family='"Liberation Sans", Arial, sans-serif' fill="#000" stroke="#000" stroke-width="0.15" >100</text>
<line x1="73.10" y1="428.40" x2="76.60" y2="428.40" stroke="#000" stroke-width="1.1" />
<text transform="translate(72.20,430.87) scale(0.893,1.048)" font-size="6.55" text-anchor="end" font-family='"Liberation Sans", Arial, sans-serif' fill="#000" stroke="#000" stroke-width="0.15" >50</text>
<line x1="73.10" y1="462.50" x2="76.60" y2="462.50" stroke="#000" stroke-width="1.1" />
<text transform="translate(72.20,464.97) scale(0.893,1.048)" font-size="6.55" text-anchor="end" font-family='"Liberation Sans", Arial, sans-serif' fill="#000" stroke="#000" stroke-width="0.15" >0</text>
<line x1="103.00" y1="462.50" x2="103.00" y2="466.38" stroke="#000" stroke-width="1.1" />
<line x1="143.70" y1="462.50" x2="143.70" y2="466.38" stroke="#000" stroke-width="1.1" />
<line x1="183.60" y1="462.50" x2="183.60" y2="466.38" stroke="#000" stroke-width="1.1" />
<line x1="223.80" y1="462.50" x2="223.80" y2="466.38" stroke="#000" stroke-width="1.1" />
<line x1="263.90" y1="462.50" x2="263.90" y2="466.38" stroke="#000" stroke-width="1.1" />
<line x1="304.30" y1="462.50" x2="304.30" y2="466.38" stroke="#000" stroke-width="1.1" />
<text transform="translate(102.89,470.44) scale(1,1.048) rotate(-45) scale(0.893,1)" x="0" y="2.3" font-size="6.55" text-anchor="end" textLength="21.05" lengthAdjust="spacing" font-family='"Liberation Sans", Arial, sans-serif' fill="#000" stroke="#000" stroke-width="0.15">Control</text>
<text transform="translate(143.01,469.44) scale(1,1.048) rotate(-45) scale(0.893,1)" x="0" y="2.3" font-size="6.55" text-anchor="end" textLength="31.95" lengthAdjust="spacing" font-family='"Liberation Sans", Arial, sans-serif' fill="#000" stroke="#000" stroke-width="0.15">Dabigatran</text>
<text transform="translate(182.59,469.87) scale(1,1.048) rotate(-45) scale(0.893,1)" x="0" y="2.3" font-size="6.55" text-anchor="end" textLength="43.72" lengthAdjust="spacing" font-family='"Liberation Sans", Arial, sans-serif' fill="#000" stroke="#000" stroke-width="0.15">FXa-inhibitors</text>
<text transform="translate(223.46,469.44) scale(1,1.048) rotate(-45) scale(0.893,1)" x="0" y="2.3" font-size="6.55" text-anchor="end" textLength="49.79" lengthAdjust="spacing" font-family='"Liberation Sans", Arial, sans-serif' fill="#000" stroke="#000" stroke-width="0.15">Phenprocoumon</text>
<text transform="translate(263.76,469.87) scale(1,1.048) rotate(-45) scale(0.893,1)" x="0" y="2.3" font-size="6.55" text-anchor="end" textLength="19.94" lengthAdjust="spacing" font-family='"Liberation Sans", Arial, sans-serif' fill="#000" stroke="#000" stroke-width="0.15">LMWH</text>
<text transform="translate(302.23,472.29) scale(1,1.048) rotate(-45) scale(0.893,1)" x="0" y="2.3" font-size="6.55" text-anchor="end" textLength="23.48" lengthAdjust="spacing" font-family='"Liberation Sans", Arial, sans-serif' fill="#000" stroke="#000" stroke-width="0.15">Heparin</text>
<text transform="translate(25.90,380.20) scale(0.893,1.048)" font-size="6.55" font-family='"Liberation Sans", Arial, sans-serif' fill="#000" stroke="#000" stroke-width="0.15">LOT<tspan font-size="4.75" dy="1.75">TPA-test</tspan><tspan dx="1.5" dy="-1.55" font-size="6.55">(s)</tspan></text>
<path d="M139.70 288.70 V284.20 H302.90 V288.70" fill="none" stroke="#222" stroke-width="0.65"/>
<path d="M139.70 301.50 V296.70 H259.70 V301.50" fill="none" stroke="#222" stroke-width="0.65"/>
<path d="M139.70 314.80 V310.30 H221.30 V314.80" fill="none" stroke="#222" stroke-width="0.65"/>
<path d="M139.70 327.40 V322.90 H180.60 V327.40" fill="none" stroke="#222" stroke-width="0.65"/>
<path d="M99.50 337.90 V333.20 H139.70 V337.90" fill="none" stroke="#222" stroke-width="0.65"/>
<text transform="translate(119.60,329.72) scale(0.95,1.048)" font-size="6.3" text-anchor="middle" font-family='"Liberation Sans", Arial, sans-serif' fill="#000" stroke="#000" stroke-width="0.12" letter-spacing="-0.15">**</text>
<text transform="translate(160.00,318.42) scale(0.95,1.048)" font-size="6.3" text-anchor="middle" font-family='"Liberation Sans", Arial, sans-serif' fill="#000" stroke="#000" stroke-width="0.12" letter-spacing="-0.15">**</text>
<text transform="translate(221.50,280.22) scale(0.95,1.048)" font-size="6.3" text-anchor="middle" font-family='"Liberation Sans", Arial, sans-serif' fill="#000" stroke="#000" stroke-width="0.12" letter-spacing="-0.15">***</text>
<text transform="translate(199.90,292.82) scale(0.95,1.048)" font-size="6.3" text-anchor="middle" font-family='"Liberation Sans", Arial, sans-serif' fill="#000" stroke="#000" stroke-width="0.12" letter-spacing="-0.15">**</text>
<text transform="translate(180.30,306.12) scale(0.95,1.048)" font-size="6.3" text-anchor="middle" font-family='"Liberation Sans", Arial, sans-serif' fill="#000" stroke="#000" stroke-width="0.12" letter-spacing="-0.15">***</text>
<line x1="89.60" y1="395.30" x2="116.80" y2="395.30" stroke="#000" stroke-width="1.0" />
<line x1="103.20" y1="393.50" x2="103.20" y2="406.30" stroke="#000" stroke-width="1.0" />
<line x1="96.20" y1="393.50" x2="110.20" y2="393.50" stroke="#000" stroke-width="1.0" />
<line x1="96.20" y1="406.30" x2="110.20" y2="406.30" stroke="#000" stroke-width="1.0" />
<ellipse cx="102.95" cy="382.69" rx="1.32" ry="1.383" fill="none" stroke="#000" stroke-width="0.75"/>
<ellipse cx="102.95" cy="390.97" rx="1.32" ry="1.383" fill="none" stroke="#000" stroke-width="0.75"/>
<ellipse cx="100.44" cy="393.99" rx="1.32" ry="1.383" fill="none" stroke="#000" stroke-width="0.75"/>
<ellipse cx="105.46" cy="393.99" rx="1.32" ry="1.383" fill="none" stroke="#000" stroke-width="0.75"/>
<ellipse cx="110.48" cy="393.99" rx="1.32" ry="1.383" fill="none" stroke="#000" stroke-width="0.75"/>
<ellipse cx="95.42" cy="396.50" rx="1.32" ry="1.383" fill="none" stroke="#000" stroke-width="0.75"/>
<ellipse cx="105.46" cy="402.77" rx="1.32" ry="1.383" fill="none" stroke="#000" stroke-width="0.75"/>
<ellipse cx="100.44" cy="404.78" rx="1.32" ry="1.383" fill="none" stroke="#000" stroke-width="0.75"/>
<ellipse cx="105.46" cy="411.31" rx="1.32" ry="1.383" fill="none" stroke="#000" stroke-width="0.75"/>
<ellipse cx="100.44" cy="413.57" rx="1.32" ry="1.383" fill="none" stroke="#000" stroke-width="0.75"/>
<line x1="130.00" y1="427.20" x2="157.20" y2="427.20" stroke="#000" stroke-width="1.0" />
<line x1="143.60" y1="419.40" x2="143.60" y2="435.00" stroke="#000" stroke-width="1.0" />
<line x1="136.60" y1="419.40" x2="150.60" y2="419.40" stroke="#000" stroke-width="1.0" />
<line x1="136.60" y1="435.00" x2="150.60" y2="435.00" stroke="#000" stroke-width="1.0" />
<ellipse cx="143.63" cy="407.80" rx="1.32" ry="1.383" fill="none" stroke="#000" stroke-width="0.75"/>
<ellipse cx="143.63" cy="414.83" rx="1.32" ry="1.383" fill="none" stroke="#000" stroke-width="0.75"/>
<ellipse cx="146.14" cy="421.10" rx="1.32" ry="1.383" fill="none" stroke="#000" stroke-width="0.75"/>
<ellipse cx="140.61" cy="423.36" rx="1.32" ry="1.383" fill="none" stroke="#000" stroke-width="0.75"/>
<ellipse cx="140.61" cy="427.13" rx="1.32" ry="1.383" fill="none" stroke="#000" stroke-width="0.75"/>
<ellipse cx="146.14" cy="427.13" rx="1.32" ry="1.383" fill="none" stroke="#000" stroke-width="0.75"/>
<ellipse cx="143.63" cy="430.39" rx="1.32" ry="1.383" fill="none" stroke="#000" stroke-width="0.75"/>
<ellipse cx="143.63" cy="434.16" rx="1.32" ry="1.383" fill="none" stroke="#000" stroke-width="0.75"/>
<ellipse cx="143.63" cy="438.43" rx="1.32" ry="1.383" fill="none" stroke="#000" stroke-width="0.75"/>
<ellipse cx="143.63" cy="443.20" rx="1.32" ry="1.383" fill="none" stroke="#000" stroke-width="0.75"/>
<line x1="170.00" y1="398.40" x2="197.20" y2="398.40" stroke="#000" stroke-width="1.0" />
<line x1="183.60" y1="391.00" x2="183.60" y2="413.00" stroke="#000" stroke-width="1.0" />
<line x1="176.60" y1="391.00" x2="190.60" y2="391.00" stroke="#000" stroke-width="1.0" />
<line x1="176.60" y1="413.00" x2="190.60" y2="413.00" stroke="#000" stroke-width="1.0" />
<ellipse cx="183.65" cy="360.46" rx="1.32" ry="1.383" fill="none" stroke="#000" stroke-width="0.75"/>
<ellipse cx="183.65" cy="377.20" rx="1.32" ry="1.383" fill="none" stroke="#000" stroke-width="0.75"/>
<ellipse cx="188.69" cy="380.65" rx="1.32" ry="1.383" fill="none" stroke="#000" stroke-width="0.75"/>
<ellipse cx="183.65" cy="382.51" rx="1.32" ry="1.383" fill="none" stroke="#000" stroke-width="0.75"/>
<ellipse cx="178.60" cy="387.29" rx="1.32" ry="1.383" fill="none" stroke="#000" stroke-width="0.75"/>
<ellipse cx="183.65" cy="387.29" rx="1.32" ry="1.383" fill="none" stroke="#000" stroke-width="0.75"/>
<ellipse cx="188.69" cy="386.50" rx="1.32" ry="1.383" fill="none" stroke="#000" stroke-width="0.75"/>
<ellipse cx="173.28" cy="393.14" rx="1.32" ry="1.383" fill="none" stroke="#000" stroke-width="0.75"/>
<ellipse cx="178.60" cy="392.61" rx="1.32" ry="1.383" fill="none" stroke="#000" stroke-width="0.75"/>
<ellipse cx="183.65" cy="392.61" rx="1.32" ry="1.383" fill="none" stroke="#000" stroke-width="0.75"/>
<ellipse cx="188.69" cy="392.61" rx="1.32" ry="1.383" fill="none" stroke="#000" stroke-width="0.75"/>
<ellipse cx="194.01" cy="393.14" rx="1.32" ry="1.383" fill="none" stroke="#000" stroke-width="0.75"/>
<ellipse cx="178.60" cy="395.80" rx="1.32" ry="1.383" fill="none" stroke="#000" stroke-width="0.75"/>
<ellipse cx="183.65" cy="395.26" rx="1.32" ry="1.383" fill="none" stroke="#000" stroke-width="0.75"/>
<ellipse cx="188.69" cy="396.33" rx="1.32" ry="1.383" fill="none" stroke="#000" stroke-width="0.75"/>
<ellipse cx="194.01" cy="397.12" rx="1.32" ry="1.383" fill="none" stroke="#000" stroke-width="0.75"/>
<ellipse cx="178.60" cy="399.78" rx="1.32" ry="1.383" fill="none" stroke="#000" stroke-width="0.75"/>
<ellipse cx="188.69" cy="399.78" rx="1.32" ry="1.383" fill="none" stroke="#000" stroke-width="0.75"/>
<ellipse cx="181.26" cy="403.24" rx="1.32" ry="1.383" fill="none" stroke="#000" stroke-width="0.75"/>
<ellipse cx="186.57" cy="403.24" rx="1.32" ry="1.383" fill="none" stroke="#000" stroke-width="0.75"/>
<ellipse cx="183.65" cy="406.42" rx="1.32" ry="1.383" fill="none" stroke="#000" stroke-width="0.75"/>
<ellipse cx="181.26" cy="407.75" rx="1.32" ry="1.383" fill="none" stroke="#000" stroke-width="0.75"/>
<ellipse cx="186.57" cy="407.75" rx="1.32" ry="1.383" fill="none" stroke="#000" stroke-width="0.75"/>
<ellipse cx="183.65" cy="411.21" rx="1.32" ry="1.383" fill="none" stroke="#000" stroke-width="0.75"/>
<ellipse cx="178.60" cy="414.39" rx="1.32" ry="1.383" fill="none" stroke="#000" stroke-width="0.75"/>
<ellipse cx="188.69" cy="413.86" rx="1.32" ry="1.383" fill="none" stroke="#000" stroke-width="0.75"/>
<ellipse cx="178.60" cy="417.85" rx="1.32" ry="1.383" fill="none" stroke="#000" stroke-width="0.75"/>
<ellipse cx="183.65" cy="415.72" rx="1.32" ry="1.383" fill="none" stroke="#000" stroke-width="0.75"/>
<ellipse cx="188.69" cy="417.05" rx="1.32" ry="1.383" fill="none" stroke="#000" stroke-width="0.75"/>
<ellipse cx="183.65" cy="419.71" rx="1.32" ry="1.383" fill="none" stroke="#000" stroke-width="0.75"/>
<ellipse cx="188.69" cy="419.71" rx="1.32" ry="1.383" fill="none" stroke="#000" stroke-width="0.75"/>
<ellipse cx="183.65" cy="423.69" rx="1.32" ry="1.383" fill="none" stroke="#000" stroke-width="0.75"/>
<line x1="210.20" y1="393.40" x2="237.40" y2="393.40" stroke="#000" stroke-width="1.0" />
<line x1="223.80" y1="385.70" x2="223.80" y2="403.20" stroke="#000" stroke-width="1.0" />
<line x1="216.80" y1="385.70" x2="230.80" y2="385.70" stroke="#000" stroke-width="1.0" />
<line x1="216.80" y1="403.20" x2="230.80" y2="403.20" stroke="#000" stroke-width="1.0" />
<ellipse cx="223.77" cy="377.20" rx="1.32" ry="1.383" fill="none" stroke="#000" stroke-width="0.75"/>
<ellipse cx="223.77" cy="380.65" rx="1.32" ry="1.383" fill="none" stroke="#000" stroke-width="0.75"/>
<ellipse cx="221.64" cy="387.29" rx="1.32" ry="1.383" fill="none" stroke="#000" stroke-width="0.75"/>
<ellipse cx="226.42" cy="389.95" rx="1.32" ry="1.383" fill="none" stroke="#000" stroke-width="0.75"/>
<ellipse cx="221.64" cy="394.47" rx="1.32" ry="1.383" fill="none" stroke="#000" stroke-width="0.75"/>
<ellipse cx="226.42" cy="395.80" rx="1.32" ry="1.383" fill="none" stroke="#000" stroke-width="0.75"/>
<ellipse cx="221.64" cy="403.24" rx="1.32" ry="1.383" fill="none" stroke="#000" stroke-width="0.75"/>
<ellipse cx="226.42" cy="403.24" rx="1.32" ry="1.383" fill="none" stroke="#000" stroke-width="0.75"/>
<ellipse cx="223.77" cy="419.97" rx="1.32" ry="1.383" fill="none" stroke="#000" stroke-width="0.75"/>
<line x1="250.30" y1="395.80" x2="277.50" y2="395.80" stroke="#000" stroke-width="1.0" />
<line x1="263.90" y1="390.00" x2="263.90" y2="401.10" stroke="#000" stroke-width="1.0" />
<line x1="256.90" y1="390.00" x2="270.90" y2="390.00" stroke="#000" stroke-width="1.0" />
<line x1="256.90" y1="401.10" x2="270.90" y2="401.10" stroke="#000" stroke-width="1.0" />
<ellipse cx="263.89" cy="375.87" rx="1.32" ry="1.383" fill="none" stroke="#000" stroke-width="0.75"/>
<ellipse cx="263.89" cy="387.82" rx="1.32" ry="1.383" fill="none" stroke="#000" stroke-width="0.75"/>
<ellipse cx="261.76" cy="394.47" rx="1.32" ry="1.383" fill="none" stroke="#000" stroke-width="0.75"/>
<ellipse cx="266.28" cy="394.47" rx="1.32" ry="1.383" fill="none" stroke="#000" stroke-width="0.75"/>
<ellipse cx="263.89" cy="397.92" rx="1.32" ry="1.383" fill="none" stroke="#000" stroke-width="0.75"/>
<ellipse cx="258.84" cy="401.64" rx="1.32" ry="1.383" fill="none" stroke="#000" stroke-width="0.75"/>
<ellipse cx="263.89" cy="400.58" rx="1.32" ry="1.383" fill="none" stroke="#000" stroke-width="0.75"/>
<ellipse cx="268.93" cy="403.24" rx="1.32" ry="1.383" fill="none" stroke="#000" stroke-width="0.75"/>
<ellipse cx="258.84" cy="404.56" rx="1.32" ry="1.383" fill="none" stroke="#000" stroke-width="0.75"/>
<line x1="290.70" y1="395.30" x2="317.90" y2="395.30" stroke="#000" stroke-width="1.0" />
<line x1="304.30" y1="383.30" x2="304.30" y2="405.10" stroke="#000" stroke-width="1.0" />
<line x1="297.30" y1="383.30" x2="311.30" y2="383.30" stroke="#000" stroke-width="1.0" />
<line x1="297.30" y1="405.10" x2="311.30" y2="405.10" stroke="#000" stroke-width="1.0" />
<ellipse cx="304.27" cy="353.82" rx="1.32" ry="1.383" fill="none" stroke="#000" stroke-width="0.75"/>
<ellipse cx="304.27" cy="375.87" rx="1.32" ry="1.383" fill="none" stroke="#000" stroke-width="0.75"/>
<ellipse cx="301.61" cy="387.82" rx="1.32" ry="1.383" fill="none" stroke="#000" stroke-width="0.75"/>
<ellipse cx="306.93" cy="386.50" rx="1.32" ry="1.383" fill="none" stroke="#000" stroke-width="0.75"/>
<ellipse cx="306.93" cy="394.47" rx="1.32" ry="1.383" fill="none" stroke="#000" stroke-width="0.75"/>
<ellipse cx="301.61" cy="396.59" rx="1.32" ry="1.383" fill="none" stroke="#000" stroke-width="0.75"/>
<ellipse cx="301.61" cy="403.77" rx="1.32" ry="1.383" fill="none" stroke="#000" stroke-width="0.75"/>
<ellipse cx="306.93" cy="404.30" rx="1.32" ry="1.383" fill="none" stroke="#000" stroke-width="0.75"/>
<ellipse cx="306.93" cy="408.02" rx="1.32" ry="1.383" fill="none" stroke="#000" stroke-width="0.75"/>
<ellipse cx="301.61" cy="410.14" rx="1.32" ry="1.383" fill="none" stroke="#000" stroke-width="0.75"/>
<line x1="426.70" y1="323.60" x2="426.70" y2="460.20" stroke="#111" stroke-width="1.05" />
<line x1="426.20" y1="459.70" x2="685.00" y2="459.70" stroke="#111" stroke-width="1.05" />
<line x1="423.20" y1="324.10" x2="426.70" y2="324.10" stroke="#000" stroke-width="1.1" />
<text transform="translate(422.30,326.57) scale(0.893,1.048)" font-size="6.55" text-anchor="end" font-family='"Liberation Sans", Arial, sans-serif' fill="#000" stroke="#000" stroke-width="0.15" >100</text>
<line x1="423.20" y1="351.00" x2="426.70" y2="351.00" stroke="#000" stroke-width="1.1" />
<text transform="translate(422.30,353.47) scale(0.893,1.048)" font-size="6.55" text-anchor="end" font-family='"Liberation Sans", Arial, sans-serif' fill="#000" stroke="#000" stroke-width="0.15" >90</text>
<line x1="423.20" y1="378.20" x2="426.70" y2="378.20" stroke="#000" stroke-width="1.1" />
<text transform="translate(422.30,380.67) scale(0.893,1.048)" font-size="6.55" text-anchor="end" font-family='"Liberation Sans", Arial, sans-serif' fill="#000" stroke="#000" stroke-width="0.15" >80</text>
<line x1="423.20" y1="405.40" x2="426.70" y2="405.40" stroke="#000" stroke-width="1.1" />
<text transform="translate(422.30,407.87) scale(0.893,1.048)" font-size="6.55" text-anchor="end" font-family='"Liberation Sans", Arial, sans-serif' fill="#000" stroke="#000" stroke-width="0.15" >70</text>
<line x1="423.20" y1="432.50" x2="426.70" y2="432.50" stroke="#000" stroke-width="1.1" />
<text transform="translate(422.30,434.97) scale(0.893,1.048)" font-size="6.55" text-anchor="end" font-family='"Liberation Sans", Arial, sans-serif' fill="#000" stroke="#000" stroke-width="0.15" >60</text>
<line x1="423.20" y1="459.70" x2="426.70" y2="459.70" stroke="#000" stroke-width="1.1" />
<text transform="translate(422.30,462.17) scale(0.893,1.048)" font-size="6.55" text-anchor="end" font-family='"Liberation Sans", Arial, sans-serif' fill="#000" stroke="#000" stroke-width="0.15" >50</text>
<line x1="453.60" y1="459.70" x2="453.60" y2="463.58" stroke="#000" stroke-width="1.1" />
<line x1="494.50" y1="459.70" x2="494.50" y2="463.58" stroke="#000" stroke-width="1.1" />
<line x1="535.10" y1="459.70" x2="535.10" y2="463.58" stroke="#000" stroke-width="1.1" />
<line x1="575.80" y1="459.70" x2="575.80" y2="463.58" stroke="#000" stroke-width="1.1" />
<line x1="616.50" y1="459.70" x2="616.50" y2="463.58" stroke="#000" stroke-width="1.1" />
<line x1="657.50" y1="459.70" x2="657.50" y2="463.58" stroke="#000" stroke-width="1.1" />
<text transform="translate(453.49,467.64) scale(1,1.048) rotate(-45) scale(0.893,1)" x="0" y="2.3" font-size="6.55" text-anchor="end" textLength="21.05" lengthAdjust="spacing" font-family='"Liberation Sans", Arial, sans-serif' fill="#000" stroke="#000" stroke-width="0.15">Control</text>
<text transform="translate(493.81,466.64) scale(1,1.048) rotate(-45) scale(0.893,1)" x="0" y="2.3" font-size="6.55" text-anchor="end" textLength="31.95" lengthAdjust="spacing" font-family='"Liberation Sans", Arial, sans-serif' fill="#000" stroke="#000" stroke-width="0.15">Dabigatran</text>
<text transform="translate(534.09,467.07) scale(1,1.048) rotate(-45) scale(0.893,1)" x="0" y="2.3" font-size="6.55" text-anchor="end" textLength="43.72" lengthAdjust="spacing" font-family='"Liberation Sans", Arial, sans-serif' fill="#000" stroke="#000" stroke-width="0.15">FXa-inhibitors</text>
<text transform="translate(575.46,466.64) scale(1,1.048) rotate(-45) scale(0.893,1)" x="0" y="2.3" font-size="6.55" text-anchor="end" textLength="49.79" lengthAdjust="spacing" font-family='"Liberation Sans", Arial, sans-serif' fill="#000" stroke="#000" stroke-width="0.15">Phenprocoumon</text>
<text transform="translate(616.36,467.07) scale(1,1.048) rotate(-45) scale(0.893,1)" x="0" y="2.3" font-size="6.55" text-anchor="end" textLength="19.94" lengthAdjust="spacing" font-family='"Liberation Sans", Arial, sans-serif' fill="#000" stroke="#000" stroke-width="0.15">LMWH</text>
<text transform="translate(655.43,469.49) scale(1,1.048) rotate(-45) scale(0.893,1)" x="0" y="2.3" font-size="6.55" text-anchor="end" textLength="23.48" lengthAdjust="spacing" font-family='"Liberation Sans", Arial, sans-serif' fill="#000" stroke="#000" stroke-width="0.15">Heparin</text>
<text transform="translate(379.40,389.00) scale(0.893,1.048)" font-size="6.55" font-family='"Liberation Sans", Arial, sans-serif' fill="#000" stroke="#000" stroke-width="0.15">ML<tspan font-size="4.75" dy="1.75">TPA-test</tspan><tspan dx="1.5" dy="-1.55" font-size="6.55">(%)</tspan></text>
<path d="M494.50 287.50 V282.90 H656.20 V287.50" fill="none" stroke="#222" stroke-width="0.65"/>
<path d="M494.50 301.80 V297.20 H612.70 V301.80" fill="none" stroke="#222" stroke-width="0.65"/>
<path d="M494.50 315.90 V311.30 H574.80 V315.90" fill="none" stroke="#222" stroke-width="0.65"/>
<text transform="translate(575.30,278.72) scale(0.95,1.048)" font-size="6.3" text-anchor="middle" font-family='"Liberation Sans", Arial, sans-serif' fill="#000" stroke="#000" stroke-width="0.12" letter-spacing="-0.15">*</text>
<text transform="translate(553.50,292.82) scale(0.95,1.048)" font-size="6.3" text-anchor="middle" font-family='"Liberation Sans", Arial, sans-serif' fill="#000" stroke="#000" stroke-width="0.12" letter-spacing="-0.15">**</text>
<text transform="translate(534.60,306.92) scale(0.95,1.048)" font-size="6.3" text-anchor="middle" font-family='"Liberation Sans", Arial, sans-serif' fill="#000" stroke="#000" stroke-width="0.12" letter-spacing="-0.15">**</text>
<line x1="439.80" y1="334.35" x2="467.00" y2="334.35" stroke="#000" stroke-width="1.0" />
<line x1="453.40" y1="333.60" x2="453.40" y2="337.60" stroke="#000" stroke-width="1.0" />
<line x1="444.40" y1="333.60" x2="462.40" y2="333.60" stroke="#000" stroke-width="1.0" />
<line x1="444.40" y1="337.60" x2="462.40" y2="337.60" stroke="#000" stroke-width="1.0" />
<ellipse cx="450.93" cy="331.78" rx="1.32" ry="1.383" fill="none" stroke="#000" stroke-width="0.75"/>
<ellipse cx="455.95" cy="331.78" rx="1.32" ry="1.383" fill="none" stroke="#000" stroke-width="0.75"/>
<ellipse cx="445.44" cy="335.28" rx="1.32" ry="1.383" fill="none" stroke="#000" stroke-width="0.75"/>
<ellipse cx="448.12" cy="335.52" rx="1.32" ry="1.383" fill="none" stroke="#000" stroke-width="0.75"/>
<ellipse cx="450.93" cy="335.28" rx="1.32" ry="1.383" fill="none" stroke="#000" stroke-width="0.75"/>
<ellipse cx="453.61" cy="335.52" rx="1.32" ry="1.383" fill="none" stroke="#000" stroke-width="0.75"/>
<ellipse cx="455.95" cy="335.28" rx="1.32" ry="1.383" fill="none" stroke="#000" stroke-width="0.75"/>
<ellipse cx="458.87" cy="335.52" rx="1.32" ry="1.383" fill="none" stroke="#000" stroke-width="0.75"/>
<ellipse cx="461.44" cy="335.28" rx="1.32" ry="1.383" fill="none" stroke="#000" stroke-width="0.75"/>
<ellipse cx="445.44" cy="336.92" rx="1.32" ry="1.383" fill="none" stroke="#000" stroke-width="0.75"/>
<ellipse cx="450.93" cy="336.92" rx="1.32" ry="1.383" fill="none" stroke="#000" stroke-width="0.75"/>
<ellipse cx="455.95" cy="336.92" rx="1.32" ry="1.383" fill="none" stroke="#000" stroke-width="0.75"/>
<ellipse cx="461.44" cy="336.92" rx="1.32" ry="1.383" fill="none" stroke="#000" stroke-width="0.75"/>
<line x1="480.80" y1="342.50" x2="508.00" y2="342.50" stroke="#000" stroke-width="1.0" />
<line x1="494.40" y1="337.80" x2="494.40" y2="345.00" stroke="#000" stroke-width="1.0" />
<line x1="487.40" y1="337.80" x2="501.40" y2="337.80" stroke="#000" stroke-width="1.0" />
<line x1="487.40" y1="345.00" x2="501.40" y2="345.00" stroke="#000" stroke-width="1.0" />
<ellipse cx="491.45" cy="331.86" rx="1.32" ry="1.383" fill="none" stroke="#000" stroke-width="0.75"/>
<ellipse cx="496.88" cy="331.86" rx="1.32" ry="1.383" fill="none" stroke="#000" stroke-width="0.75"/>
<ellipse cx="491.33" cy="339.91" rx="1.32" ry="1.383" fill="none" stroke="#000" stroke-width="0.75"/>
<ellipse cx="494.14" cy="339.91" rx="1.32" ry="1.383" fill="none" stroke="#000" stroke-width="0.75"/>
<ellipse cx="497.00" cy="339.91" rx="1.32" ry="1.383" fill="none" stroke="#000" stroke-width="0.75"/>
<ellipse cx="485.96" cy="343.19" rx="1.32" ry="1.383" fill="none" stroke="#000" stroke-width="0.75"/>
<ellipse cx="488.65" cy="343.19" rx="1.32" ry="1.383" fill="none" stroke="#000" stroke-width="0.75"/>
<ellipse cx="491.33" cy="343.19" rx="1.32" ry="1.383" fill="none" stroke="#000" stroke-width="0.75"/>
<ellipse cx="494.14" cy="343.19" rx="1.32" ry="1.383" fill="none" stroke="#000" stroke-width="0.75"/>
<ellipse cx="497.00" cy="343.19" rx="1.32" ry="1.383" fill="none" stroke="#000" stroke-width="0.75"/>
<ellipse cx="499.68" cy="343.19" rx="1.32" ry="1.383" fill="none" stroke="#000" stroke-width="0.75"/>
<ellipse cx="502.07" cy="343.19" rx="1.32" ry="1.383" fill="none" stroke="#000" stroke-width="0.75"/>
<ellipse cx="494.31" cy="350.94" rx="1.32" ry="1.383" fill="none" stroke="#000" stroke-width="0.75"/>
<line x1="521.50" y1="334.40" x2="548.70" y2="334.40" stroke="#000" stroke-width="1.0" />
<line x1="535.10" y1="333.00" x2="535.10" y2="336.00" stroke="#000" stroke-width="1.0" />
<line x1="529.10" y1="333.00" x2="541.10" y2="333.00" stroke="#000" stroke-width="1.0" />
<line x1="529.10" y1="336.00" x2="541.10" y2="336.00" stroke="#000" stroke-width="1.0" />
<ellipse cx="535.09" cy="328.74" rx="1.32" ry="1.383" fill="none" stroke="#000" stroke-width="0.75"/>
<ellipse cx="523.76" cy="331.78" rx="1.32" ry="1.383" fill="none" stroke="#000" stroke-width="0.75"/>
<ellipse cx="526.56" cy="331.78" rx="1.32" ry="1.383" fill="none" stroke="#000" stroke-width="0.75"/>
<ellipse cx="529.36" cy="331.78" rx="1.32" ry="1.383" fill="none" stroke="#000" stroke-width="0.75"/>
<ellipse cx="532.17" cy="331.78" rx="1.32" ry="1.383" fill="none" stroke="#000" stroke-width="0.75"/>
<ellipse cx="535.09" cy="331.78" rx="1.32" ry="1.383" fill="none" stroke="#000" stroke-width="0.75"/>
<ellipse cx="537.89" cy="331.78" rx="1.32" ry="1.383" fill="none" stroke="#000" stroke-width="0.75"/>
<ellipse cx="540.69" cy="331.78" rx="1.32" ry="1.383" fill="none" stroke="#000" stroke-width="0.75"/>
<ellipse cx="543.61" cy="331.78" rx="1.32" ry="1.383" fill="none" stroke="#000" stroke-width="0.75"/>
<ellipse cx="546.30" cy="331.78" rx="1.32" ry="1.383" fill="none" stroke="#000" stroke-width="0.75"/>
<ellipse cx="522.24" cy="334.70" rx="1.32" ry="1.383" fill="none" stroke="#000" stroke-width="0.75"/>
<ellipse cx="525.16" cy="334.70" rx="1.32" ry="1.383" fill="none" stroke="#000" stroke-width="0.75"/>
<ellipse cx="527.96" cy="334.70" rx="1.32" ry="1.383" fill="none" stroke="#000" stroke-width="0.75"/>
<ellipse cx="530.88" cy="334.70" rx="1.32" ry="1.383" fill="none" stroke="#000" stroke-width="0.75"/>
<ellipse cx="533.69" cy="334.70" rx="1.32" ry="1.383" fill="none" stroke="#000" stroke-width="0.75"/>
<ellipse cx="536.61" cy="334.70" rx="1.32" ry="1.383" fill="none" stroke="#000" stroke-width="0.75"/>
<ellipse cx="539.41" cy="334.70" rx="1.32" ry="1.383" fill="none" stroke="#000" stroke-width="0.75"/>
<ellipse cx="542.33" cy="334.70" rx="1.32" ry="1.383" fill="none" stroke="#000" stroke-width="0.75"/>
<ellipse cx="545.13" cy="334.70" rx="1.32" ry="1.383" fill="none" stroke="#000" stroke-width="0.75"/>
<ellipse cx="548.05" cy="334.70" rx="1.32" ry="1.383" fill="none" stroke="#000" stroke-width="0.75"/>
<ellipse cx="526.68" cy="336.69" rx="1.32" ry="1.383" fill="none" stroke="#000" stroke-width="0.75"/>
<ellipse cx="529.60" cy="336.69" rx="1.32" ry="1.383" fill="none" stroke="#000" stroke-width="0.75"/>
<ellipse cx="532.52" cy="336.69" rx="1.32" ry="1.383" fill="none" stroke="#000" stroke-width="0.75"/>
<ellipse cx="535.09" cy="336.69" rx="1.32" ry="1.383" fill="none" stroke="#000" stroke-width="0.75"/>
<ellipse cx="537.89" cy="336.69" rx="1.32" ry="1.383" fill="none" stroke="#000" stroke-width="0.75"/>
<ellipse cx="540.69" cy="336.69" rx="1.32" ry="1.383" fill="none" stroke="#000" stroke-width="0.75"/>
<ellipse cx="543.61" cy="336.69" rx="1.32" ry="1.383" fill="none" stroke="#000" stroke-width="0.75"/>
<ellipse cx="529.36" cy="339.61" rx="1.32" ry="1.383" fill="none" stroke="#000" stroke-width="0.75"/>
<ellipse cx="535.09" cy="339.61" rx="1.32" ry="1.383" fill="none" stroke="#000" stroke-width="0.75"/>
<ellipse cx="540.69" cy="339.61" rx="1.32" ry="1.383" fill="none" stroke="#000" stroke-width="0.75"/>
<ellipse cx="533.69" cy="342.76" rx="1.32" ry="1.383" fill="none" stroke="#000" stroke-width="0.75"/>
<ellipse cx="536.61" cy="342.76" rx="1.32" ry="1.383" fill="none" stroke="#000" stroke-width="0.75"/>
<ellipse cx="535.09" cy="348.13" rx="1.32" ry="1.383" fill="none" stroke="#000" stroke-width="0.75"/>
<line x1="564.80" y1="332.00" x2="586.80" y2="332.00" stroke="#000" stroke-width="1.0" />
<ellipse cx="563.47" cy="332.01" rx="1.32" ry="1.383" fill="none" stroke="#000" stroke-width="0.75"/>
<ellipse cx="566.62" cy="332.01" rx="1.32" ry="1.383" fill="none" stroke="#000" stroke-width="0.75"/>
<ellipse cx="569.66" cy="332.01" rx="1.32" ry="1.383" fill="none" stroke="#000" stroke-width="0.75"/>
<ellipse cx="572.81" cy="332.01" rx="1.32" ry="1.383" fill="none" stroke="#000" stroke-width="0.75"/>
<ellipse cx="575.85" cy="332.01" rx="1.32" ry="1.383" fill="none" stroke="#000" stroke-width="0.75"/>
<ellipse cx="579.00" cy="332.01" rx="1.32" ry="1.383" fill="none" stroke="#000" stroke-width="0.75"/>
<ellipse cx="582.15" cy="332.01" rx="1.32" ry="1.383" fill="none" stroke="#000" stroke-width="0.75"/>
<ellipse cx="585.19" cy="332.01" rx="1.32" ry="1.383" fill="none" stroke="#000" stroke-width="0.75"/>
<ellipse cx="588.34" cy="332.01" rx="1.32" ry="1.383" fill="none" stroke="#000" stroke-width="0.75"/>
<ellipse cx="575.73" cy="334.70" rx="1.32" ry="1.383" fill="none" stroke="#000" stroke-width="0.75"/>
<ellipse cx="575.73" cy="339.84" rx="1.32" ry="1.383" fill="none" stroke="#000" stroke-width="0.75"/>
<line x1="602.80" y1="331.80" x2="630.00" y2="331.80" stroke="#000" stroke-width="1.0" />
<line x1="616.40" y1="331.80" x2="616.40" y2="335.20" stroke="#000" stroke-width="1.0" />
<line x1="609.40" y1="331.80" x2="623.40" y2="331.80" stroke="#000" stroke-width="1.0" />
<line x1="609.40" y1="335.20" x2="623.40" y2="335.20" stroke="#000" stroke-width="1.0" />
<ellipse cx="616.37" cy="328.74" rx="1.32" ry="1.383" fill="none" stroke="#000" stroke-width="0.75"/>
<ellipse cx="606.33" cy="331.78" rx="1.32" ry="1.383" fill="none" stroke="#000" stroke-width="0.75"/>
<ellipse cx="611.35" cy="331.78" rx="1.32" ry="1.383" fill="none" stroke="#000" stroke-width="0.75"/>
<ellipse cx="616.37" cy="331.78" rx="1.32" ry="1.383" fill="none" stroke="#000" stroke-width="0.75"/>
<ellipse cx="621.86" cy="331.78" rx="1.32" ry="1.383" fill="none" stroke="#000" stroke-width="0.75"/>
<ellipse cx="627.12" cy="331.78" rx="1.32" ry="1.383" fill="none" stroke="#000" stroke-width="0.75"/>
<ellipse cx="611.35" cy="335.17" rx="1.32" ry="1.383" fill="none" stroke="#000" stroke-width="0.75"/>
<ellipse cx="616.37" cy="335.17" rx="1.32" ry="1.383" fill="none" stroke="#000" stroke-width="0.75"/>
<ellipse cx="621.86" cy="335.17" rx="1.32" ry="1.383" fill="none" stroke="#000" stroke-width="0.75"/>
<ellipse cx="616.37" cy="337.50" rx="1.32" ry="1.383" fill="none" stroke="#000" stroke-width="0.75"/>
<line x1="643.90" y1="331.80" x2="671.10" y2="331.80" stroke="#000" stroke-width="1.0" />
<line x1="657.50" y1="331.80" x2="657.50" y2="335.30" stroke="#000" stroke-width="1.0" />
<line x1="650.20" y1="331.80" x2="664.80" y2="331.80" stroke="#000" stroke-width="1.0" />
<line x1="650.20" y1="335.30" x2="664.80" y2="335.30" stroke="#000" stroke-width="1.0" />
<ellipse cx="657.48" cy="328.74" rx="1.32" ry="1.383" fill="none" stroke="#000" stroke-width="0.75"/>
<ellipse cx="646.97" cy="331.78" rx="1.32" ry="1.383" fill="none" stroke="#000" stroke-width="0.75"/>
<ellipse cx="652.23" cy="331.78" rx="1.32" ry="1.383" fill="none" stroke="#000" stroke-width="0.75"/>
<ellipse cx="657.48" cy="331.78" rx="1.32" ry="1.383" fill="none" stroke="#000" stroke-width="0.75"/>
<ellipse cx="662.50" cy="331.78" rx="1.32" ry="1.383" fill="none" stroke="#000" stroke-width="0.75"/>
<ellipse cx="667.76" cy="331.78" rx="1.32" ry="1.383" fill="none" stroke="#000" stroke-width="0.75"/>
<ellipse cx="654.80" cy="334.35" rx="1.32" ry="1.383" fill="none" stroke="#000" stroke-width="0.75"/>
<ellipse cx="660.05" cy="334.35" rx="1.32" ry="1.383" fill="none" stroke="#000" stroke-width="0.75"/>
<ellipse cx="654.80" cy="337.04" rx="1.32" ry="1.383" fill="none" stroke="#000" stroke-width="0.75"/>
<ellipse cx="660.05" cy="337.04" rx="1.32" ry="1.383" fill="none" stroke="#000" stroke-width="0.75"/>
</svg>
</body></html>
